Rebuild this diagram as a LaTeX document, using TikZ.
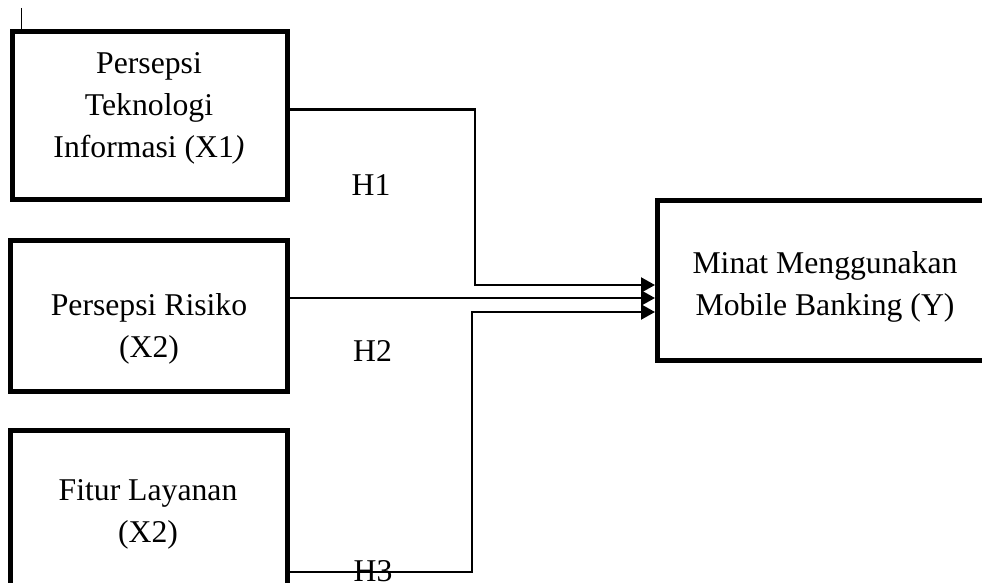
\documentclass[tikz,border=0pt]{standalone}
\usepackage{fontspec}
\setmainfont{Liberation Serif}
\usetikzlibrary{arrows.meta}
\begin{document}
\begin{tikzpicture}[x=1pt,y=-1pt,
  box/.style={draw=black,line width=5pt,rectangle,inner sep=0pt,outer sep=2.5pt},
  txt/.style={align=center,inner sep=0pt,outer sep=0pt,font=\fontsize{31.7}{42}\selectfont},
  lbl/.style={inner sep=0pt,outer sep=0pt,font=\fontsize{31.7}{42}\selectfont},
  conn/.style={draw=black,line width=2.2pt},
  arr/.style={conn,-{Triangle[length=14pt,width=15pt]}}]
\useasboundingbox (0,0) rectangle (982,583);
\begin{scope}
\clip (0,0) rectangle (982,583);
% boxes
\node[box,minimum width=275pt,minimum height=168pt] (x1) at (150,115.5) {};
\node[box,minimum width=277pt,minimum height=151pt] (x2) at (149,316) {};
\node[box,minimum width=277pt,minimum height=170pt] (x3) at (149,515) {};
\node[box,minimum width=335pt,minimum height=160pt] (y) at (825,280.5) {};
% texts
\node[txt] (t1) at (149,108.5) {Persepsi\\Teknologi\\Informasi (X1\textit{)}};
\node[txt] (t2) at (149,329) {Persepsi Risiko\\(X2)};
\node[txt] (t3) at (148,514) {Fitur Layanan\\(X2)};
\node[txt] (ty) at (825,287) {Minat Menggunakan\\Mobile Banking (Y)};
% labels
\node[lbl] (h1) at (371,185.5) {H1};
\node[lbl] (h2) at (372.5,351) {H2};
\node[lbl] (h3) at (373,571) {H3};
% stray tick
\coordinate (tk) at (21,8);
\draw[line width=1pt] (tk) -- (x1.north west -| tk);
% connectors
\coordinate (c1) at (475,109.5);
\coordinate (c3) at (472,572);
\draw[arr] (x1.east |- c1) -- (c1) |- (y.west |- 0,285);
\draw[arr] (x2.east |- 0,298) -- (y.west |- 0,298);
\draw[arr] (x3.east |- c3) -- (c3) |- (y.west |- 0,312);
\end{scope}
\end{tikzpicture}
\end{document}
